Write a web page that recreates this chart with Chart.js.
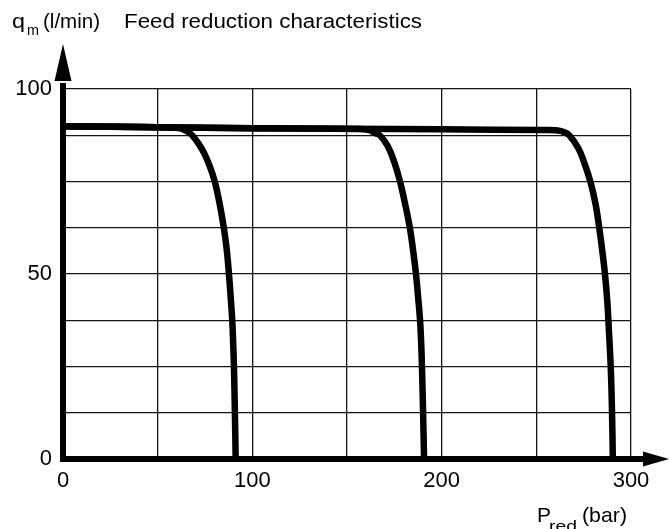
<!DOCTYPE html>
<html>
<head>
<meta charset="utf-8">
<script src="https://cdn.jsdelivr.net/npm/chart.js@4/dist/chart.umd.min.js"></script>
<style>
  html, body { margin: 0; padding: 0; background: #fff; }
  canvas { display: block; }
</style>
</head>
<body>
<canvas id="c" width="669" height="529"></canvas>
<script>
// Feed reduction characteristics: flow q_m (l/min) against reduced pressure P_red (bar)
const pressureLow  = [0, 30, 57, 60, 63, 65.7, 68, 71.5, 74.6, 77.6, 80.3, 82.8, 85, 86.5, 87.7, 88.6, 89.4, 89.9, 90.3, 90.8, 91.2];
const flowLow      = [89.9, 89.8, 89.6, 89.5, 89.2, 88.5, 87.6, 85.3, 82.6, 79, 74.7, 68.8, 62.3, 56.5, 49.7, 43.5, 37.4, 31, 24.8, 12.2, 0];

const pressureMid  = [0, 100, 157, 161, 163, 165, 167.5, 171.5, 175, 178, 180.8, 183.3, 185, 186.5, 187.6, 188.6, 189.2, 189.6, 190.2, 190.7];
const flowMid      = [89.9, 89.4, 89.2, 89.0, 88.6, 88.1, 87.4, 84.6, 80.2, 75, 68.7, 62.2, 56, 49.7, 43.5, 37.4, 31, 24.8, 12.2, 0];

const pressureHigh = [0, 100, 200, 255, 260, 262.5, 264.3, 267.2, 272.2, 275.7, 278.7, 281.4, 283.3, 284.9, 286.3, 287.5, 288.3, 289.3, 290, 290.4];
const flowHigh     = [89.9, 89.4, 89.1, 88.9, 88.85, 88.7, 88.4, 87.6, 84.0, 79.5, 74.7, 68.6, 62.2, 56.0, 49.7, 42.5, 35, 24.8, 12.2, 0];

const xTickLabels = [0, 100, 200, 300];
const yTickLabels = [0, 50, 100];

const FONT = '"Liberation Sans", Arial, Helvetica, sans-serif';

function toPoints(px, qy) {
  return px.map((p, i) => ({ x: p, y: qy[i] }));
}

function curve(px, qy) {
  return {
    data: toPoints(px, qy),
    borderColor: '#000',
    borderWidth: 6.5,
    borderCapStyle: 'butt',
    borderJoinStyle: 'round',
    tension: 0.4,
    pointRadius: 0,
    fill: false
  };
}

// draws a text run stretched to a given width
function stretchText(ctx, text, x, y, size, width) {
  ctx.save();
  ctx.font = size + 'px ' + FONT;
  const w = ctx.measureText(text).width;
  ctx.translate(x, y);
  ctx.scale(width ? width / w : 1, 1);
  ctx.fillText(text, 0, 0);
  ctx.restore();
}

const axesPlugin = {
  id: 'axesAndLabels',
  afterDatasetsDraw(chart) {
    const ctx = chart.ctx;
    const xs = chart.scales.x, ys = chart.scales.y;
    const x0 = xs.getPixelForValue(0);
    const y0 = ys.getPixelForValue(0);
    const yTop = ys.getPixelForValue(100);
    ctx.save();
    ctx.fillStyle = '#000';
    ctx.strokeStyle = '#000';
    ctx.lineWidth = 6;
    ctx.lineCap = 'butt';
    // vertical axis with arrow
    ctx.beginPath();
    ctx.moveTo(x0, y0 + 3);
    ctx.lineTo(x0, yTop - 6);
    ctx.stroke();
    ctx.beginPath();
    ctx.moveTo(x0, yTop - 45);
    ctx.lineTo(x0 - 8.5, yTop - 8);
    ctx.lineTo(x0 + 8.5, yTop - 8);
    ctx.closePath();
    ctx.fill();
    // horizontal axis with arrow
    const xEnd = chart.width;
    ctx.beginPath();
    ctx.moveTo(x0 - 3, y0);
    ctx.lineTo(xEnd - 24, y0);
    ctx.stroke();
    ctx.beginPath();
    ctx.moveTo(xEnd, y0);
    ctx.lineTo(xEnd - 26, y0 - 7.5);
    ctx.lineTo(xEnd - 26, y0 + 7.5);
    ctx.closePath();
    ctx.fill();

    // titles with subscripts
    ctx.textBaseline = 'alphabetic';
    ctx.textAlign = 'left';
    stretchText(ctx, 'q', 12, 28, 20, 13);
    stretchText(ctx, 'm', 27, 35, 14, 12);
    stretchText(ctx, '(l/min)', 43, 28, 20, 57);
    stretchText(ctx, 'Feed reduction characteristics', 124, 28, 20, 298);
    stretchText(ctx, 'P', 537, 522, 21, 14);
    stretchText(ctx, 'red', 549, 531, 14, 28);
    stretchText(ctx, '(bar)', 582, 522, 21, 45);
    ctx.restore();
  }
};

new Chart(document.getElementById('c'), {
  type: 'line',
  data: {
    datasets: [
      curve(pressureHigh, flowHigh),
      curve(pressureMid, flowMid),
      curve(pressureLow, flowLow)
    ]
  },
  options: {
    responsive: false,
    animation: false,
    layout: { padding: { top: 89, right: 38, left: 0, bottom: 0 } },
    plugins: { legend: { display: false }, tooltip: { enabled: false } },
    scales: {
      x: {
        type: 'linear',
        min: 0, max: 300,
        afterFit(scale) { scale.height = 70; },
        border: { display: false },
        grid: { color: '#151515', lineWidth: 1.3, drawTicks: false },
        ticks: {
          stepSize: 50,
          padding: 9,
          color: '#000',
          font: { family: FONT, size: 22 },
          maxRotation: 0,
          autoSkip: false,
          callback: v => xTickLabels.includes(v) ? String(v) : ''
        }
      },
      y: {
        min: 0, max: 100,
        afterFit(scale) { scale.width = 63; },
        border: { display: false },
        grid: { color: '#151515', lineWidth: 1.3, drawTicks: false },
        ticks: {
          stepSize: 12.5,
          padding: 11,
          color: '#000',
          font: { family: FONT, size: 22 },
          autoSkip: false,
          callback: v => yTickLabels.includes(v) ? String(v) : ''
        }
      }
    }
  },
  plugins: [axesPlugin]
});
</script>
</body>
</html>
